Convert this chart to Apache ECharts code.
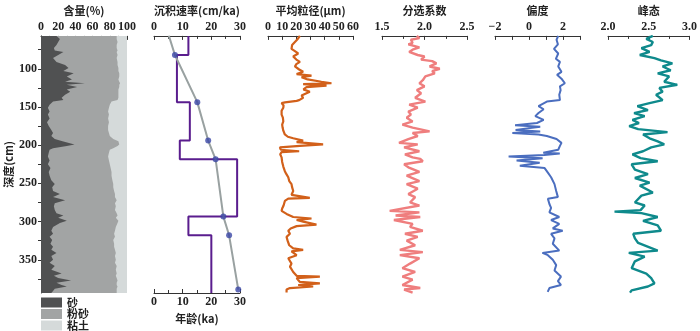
<!DOCTYPE html>
<html lang="en">
<head>
    <meta charset="UTF-8">
    <title>岩芯粒度剖面</title>
    <script src="https://cdn.jsdelivr.net/npm/echarts@6.0.0/dist/echarts.min.js"></script>
</head>
<style>
    html, body { margin: 0; padding: 0; background: #fff; }
    #chart { width: 700px; height: 331px; }
</style>
<body>
<div id="chart"></div>
<script>
    // 含量: 砂 / 砂+粉砂 上界 (%)
    const contDepth = [57, 61, 65, 69, 73, 76, 78, 82, 86, 91, 95, 99, 103, 106, 110, 114, 117, 119, 121, 124, 127, 130, 134, 138, 141,
        143, 147, 151, 156, 160, 165, 170, 175, 180, 184, 188, 192, 195, 199, 201, 204, 206, 210, 215, 220, 225, 230, 235, 240, 246,
        251, 255, 260, 264, 268, 272, 276, 280, 285, 289, 292, 295, 299, 302, 307, 312, 316, 320, 324, 329, 333, 337, 341, 345, 350,
        354, 358, 363, 368, 371, 374, 377, 380, 383, 385, 388, 391, 393.5]
    const sand = [18, 22, 20, 18, 15, 16, 26, 20, 14, 18, 28, 32, 26, 38, 30, 36, 28, 51, 30, 42, 30, 34, 28, 24, 26,
        14, 10, 8, 10, 8, 10, 7, 9, 12, 14, 12, 16, 25, 39, 30, 14, 10, 9, 8, 10, 8, 11, 9, 10, 12,
        16, 13, 14, 22, 14, 28, 16, 15, 16, 18, 26, 20, 30, 22, 14, 12, 14, 10, 13, 11, 14, 12, 18, 12, 14,
        10, 16, 12, 24, 15, 20, 35, 18, 24, 30, 16, 14, 12]
    const sandSilt = [88, 88, 89, 88, 88, 89, 88, 89, 88, 89, 89, 90, 90, 91, 91, 90, 91, 92, 91, 91, 90, 90, 90, 90, 89,
        82, 80, 79, 78, 79, 78, 79, 78, 78, 79, 80, 84, 90, 91, 89, 84, 80, 79, 78, 79, 80, 81, 82, 82, 83,
        84, 84, 85, 86, 86, 88, 86, 87, 86, 88, 89, 87, 90, 89, 87, 86, 85, 86, 84, 85, 85, 86, 87, 86, 87,
        86, 88, 87, 88, 87, 88, 89, 88, 88, 89, 88, 88, 88]

    // 沉积速率 (cm/ka) 与 年龄 (ka)
    const rateBreaks = [57, 82, 143.7, 194, 218.6, 293.5, 318, 393.5]
    const rates = [12, 8, 12.5, 9, 29, 12, 20]
    const ageDepth = [57, 82, 143.7, 194, 218.6, 293.5, 318, 389]
    const ages = [5.2, 7.3, 15.1, 18.9, 21.5, 24.2, 26.2, 29.4]

    // 平均粒径 (μm)
    const gsDepth = [57, 61, 65, 69, 74, 77, 80, 84, 88, 91, 94, 97, 101, 104, 107, 109, 111, 114, 117, 119, 120, 122, 124, 127, 130,
        133, 135, 138, 141, 142, 144, 145, 148, 151, 155, 160, 164, 169, 173, 177, 181, 186, 189, 191, 194, 196, 199, 201, 203, 206,
        208, 209, 212, 216, 222, 228, 234, 238, 242, 247, 251, 255, 260, 265, 269, 270, 273, 279, 283, 286, 290, 294, 296, 298, 300,
        304, 306, 309, 312, 316, 320, 326, 331, 335, 337, 339, 344, 348, 355, 359, 366, 371, 372, 374, 379, 381, 383, 385, 387, 389, 393]
    const gsVal = [22.5, 21, 19, 17, 16.6, 19, 21.3, 17.8, 20, 22.5, 20, 19, 22, 24.8, 20.2, 30.7, 23.7, 28, 37.7, 44.8, 24.8, 41.3, 27.2, 25, 29.5,
        26, 23.7, 24.8, 22, 20.2, 12, 9.6, 11, 10.8, 9.6, 9.6, 10.5, 10.8, 10, 10.3, 10.8, 11.9, 14, 17.8, 24.8, 20.2, 38.9, 22.5, 8.4, 9,
        22, 9.6, 8.6, 9.6, 10, 10.8, 11.9, 13, 14.3, 15, 16.6, 17, 17.8, 16.6, 29.5, 14.3, 11.9, 11, 10, 9.6, 13.1, 17.8, 30.7, 20.2, 24.8,
        34.2, 20.2, 16, 14.3, 15.5, 13.1, 14, 15, 17.8, 24.8, 16.6, 20.2, 14.3, 16.6, 15.5, 17.8, 20.2, 36.6, 20.2, 22.5, 36.6, 21.3, 31.9, 15.5, 13.1, 13.1]

    // 分选系数
    const soDepth = [57, 60, 62, 66, 68, 72, 75, 78, 82, 84, 88, 90, 93, 97, 100, 103, 106, 110, 115, 119, 123, 128, 132, 138, 143,
        147, 151, 156, 160, 164, 169, 173, 177, 182, 184, 188, 192, 197, 199, 203, 208, 212, 216, 218, 221, 225, 229, 235, 240, 247,
        251, 257, 264, 268, 275, 279, 286, 288, 292, 294, 298, 303, 307, 312, 316, 320, 325, 331, 337, 340, 344, 348, 355, 361, 366,
        372, 376, 383, 387, 389, 393]
    const soVal = [1.91, 1.94, 1.84, 1.86, 1.81, 1.94, 1.86, 1.82, 1.92, 2.0, 1.96, 2.09, 2.14, 2.06, 2.18, 2.09, 2.12, 2.01, 1.98, 1.94, 2.0, 1.91, 1.96, 1.89, 2.01,
        1.82, 1.92, 1.81, 1.84, 1.79, 1.86, 1.74, 1.86, 2.06, 1.86, 1.92, 1.81, 1.70, 1.92, 1.76, 1.94, 1.77, 1.86, 1.95, 1.98, 1.76, 1.81, 1.94, 1.79, 1.94,
        1.79, 1.92, 1.81, 1.89, 1.83, 1.94, 1.59, 1.94, 1.66, 1.95, 1.64, 1.86, 1.83, 1.98, 1.77, 1.92, 1.79, 1.89, 1.71, 1.98, 1.71, 1.94, 1.83, 1.74, 1.89,
        1.74, 1.86, 1.74, 1.95, 1.76, 1.86]

    // 偏度
    const skDepth = [57, 62, 68, 74, 80, 87, 91, 97, 104, 108, 113, 119, 123, 128, 134, 141, 143, 145, 149, 151, 153, 158, 162, 167, 171,
        174, 176, 180, 182, 184, 186, 188, 192, 197, 201, 206, 210, 211, 213, 215, 217, 220, 223, 227, 230, 236, 242, 251, 260, 268,
        270, 277, 282, 288, 294, 298, 303, 309, 312, 316, 322, 329, 338, 341, 344, 350, 357, 364, 372, 378, 383, 387, 392]
    const skVal = [1.72, 1.62, 1.7, 1.47, 1.72, 1.58, 1.82, 1.72, 1.91, 1.65, 1.91, 2.11, 1.82, 1.86, 1.78, 1.82, 1.05, 1.15, 0.56, 0.47, 0.86, 0.56, 0.37, 0.86, 0.47,
        -0.82, 0.66, -0.79, 0.66, -0.98, 0.56, 1.05, 1.62, 1.91, 1.82, 1.72, 0.84, 1.81, 0.9, -1.2, 0.8, -0.73, 0.63, -0.54, 0.92, 1.11, 1.3, 1.5, 1.6, 1.7,
        1.11, 1.2, 1.3, 1.2, 1.78, 1.3, 1.78, 1.4, 1.98, 1.3, 1.5, 1.4, 1.78, 0.79, 1.11, 1.4, 1.6, 1.5, 1.88, 1.7, 1.88, 1.2, 1.1]

    // 峰态
    const kuDepth = [57, 61, 65, 69, 73, 78, 82, 86, 89, 93, 97, 102, 106, 110, 117, 121, 125, 130, 134, 141, 145, 149, 154, 158, 162,
        167, 171, 175, 179, 183, 186, 191, 195, 199, 203, 208, 212, 214, 217, 221, 225, 232, 238, 243, 249, 253, 262, 266, 275, 279,
        285, 287, 289, 294, 299, 305, 312, 316, 322, 328, 338, 341, 346, 352, 361, 368, 374, 381, 385, 390, 393]
    const kuVal = [2.55, 2.47, 2.55, 2.53, 2.41, 2.51, 2.39, 2.57, 2.65, 2.79, 2.67, 2.77, 2.61, 2.75, 2.69, 2.85, 2.63, 2.67, 2.59, 2.67, 2.51, 2.36, 2.49, 2.32, 2.45,
        2.30, 2.38, 2.26, 2.37, 2.73, 2.43, 2.51, 2.61, 2.69, 2.53, 2.43, 2.30, 2.29, 2.40, 2.61, 2.29, 2.33, 2.49, 2.33, 2.51, 2.39, 2.55, 2.41, 2.33, 2.45,
        2.40, 2.08, 2.41, 2.61, 2.43, 2.61, 2.65, 2.31, 2.33, 2.37, 2.61, 2.255, 2.45, 2.33, 2.29, 2.47, 2.53, 2.57, 2.49, 2.29, 2.27]

    const depthTicks = [75, 100, 125, 150, 175, 200, 225, 250, 275, 300, 325, 350, 375]
    const depthLabels = [100, 150, 200, 250, 300, 350]
    const legendNames = ['砂', '粉砂', '粘土']

    const zip = (ys, xs) => ys.map((d, i) => [xs[i], d])
    const D_MIN = 57, D_MAX = 393.5
    const lefts = [41, 154, 268, 382, 495, 608]
    const widths = [86, 86, 85, 85, 85, 85]

    const cnFont = {fontFamily: 'Noto Sans CJK SC', fontSize: 11, fontWeight: 'bold', color: '#222'}
    const numFont = {fontFamily: "'Liberation Serif', 'DejaVu Serif', serif", fontSize: 12, fontWeight: 'bold', color: '#222'}
    const ink = {color: '#333', width: 1}

    function xAxis(gi, pos, min, max, interval, name, fmt, minor) {
        return {
            type: 'value', gridIndex: gi, position: pos, min: min, max: max, interval: interval,
            name: name, nameLocation: 'middle', nameGap: pos === 'top' ? 19 : 18,
            nameTextStyle: cnFont,
            axisLine: {show: true, onZero: false, lineStyle: ink},
            axisTick: {show: true, inside: true, length: 4, lineStyle: ink},
            minorTick: {show: !!minor, splitNumber: 2, length: 3, lineStyle: ink},
            axisLabel: Object.assign({margin: 3, formatter: fmt}, numFont),
            splitLine: {show: false}
        }
    }

    function yAxis(gi, show) {
        return {
            type: 'value', gridIndex: gi, inverse: true, min: D_MIN, max: D_MAX, show: show,
            name: show ? '深度(cm)' : '', nameLocation: 'middle', nameGap: 27, nameRotate: 90,
            nameTextStyle: cnFont,
            axisLine: {show: true, onZero: false, lineStyle: ink},
            axisTick: {show: true, length: 3, customValues: depthTicks, lineStyle: ink},
            axisLabel: Object.assign({margin: 4, customValues: depthLabels}, numFont),
            splitLine: {show: false}
        }
    }

    // 多边形面积（通过坐标轴换算）
    function band(name, color, leftVal, rightVal) {
        return {
            type: 'custom', name: name, xAxisIndex: 0, yAxisIndex: 0,
            itemStyle: {color: color},
            data: [[50, 200]],
            renderItem: function (params, api) {
                let pts = []
                contDepth.forEach((d, i) => pts.push(api.coord([rightVal(i), d])))
                for (let i = contDepth.length - 1; i >= 0; i--) pts.push(api.coord([leftVal(i), contDepth[i]]))
                return {type: 'polygon', shape: {points: pts}, style: {fill: color}}
            }
        }
    }

    let ratePts = []
    rates.forEach((r, i) => {
        ratePts.push([r, rateBreaks[i]])
        ratePts.push([r, rateBreaks[i + 1]])
    })

    const line = (xi, yi, data, color, w) => ({
        type: 'line', xAxisIndex: xi, yAxisIndex: yi, data: data, showSymbol: false,
        lineStyle: {color: color, width: w}, itemStyle: {color: color}
    })

    const option = {
        animation: false,
        grid: lefts.map((l, i) => ({left: l, width: widths[i], top: 34, height: 259})),
        legend: legendNames.map((n, i) => ({
            data: [n], left: 41, top: 297 + i * 11.5,
            icon: 'rect', itemWidth: 21, itemHeight: 10, itemGap: 0, padding: 0,
            selectedMode: false, textStyle: cnFont
        })),
        xAxis: [
            xAxis(0, 'top', 0, 100, 20, '含量(%)', null, true),
            xAxis(1, 'top', 0, 30, 10, '沉积速率(cm/ka)', null, true),
            xAxis(1, 'bottom', 0, 30, 10, '年龄(ka)', null, true),
            xAxis(2, 'top', 0, 60, 10, '平均粒径(μm)', null, false),
            xAxis(3, 'top', 1.5, 2.5, 0.5, '分选系数', v => v.toFixed(1), true),
            xAxis(4, 'top', -2, 3, 1, '偏度', v => (v % 2 === 0 ? String(v).replace('-', '−') : ''), false),
            xAxis(5, 'top', 2.0, 3.0, 0.5, '峰态', v => v.toFixed(1), true)
        ],
        yAxis: [yAxis(0, true), yAxis(1, false), yAxis(2, false), yAxis(3, false), yAxis(4, false), yAxis(5, false)],
        series: [
            band('粘土', '#d5dada', i => 0, i => 100),
            band('粉砂', '#a2a4a4', i => 0, i => sandSilt[i]),
            band('砂', '#505152', i => 0, i => sand[i]),
            line(1, 1, ratePts, '#5a1d8e', 2),
            line(2, 1, zip(ageDepth, ages), '#99a1a1', 2),
            {
                type: 'scatter', xAxisIndex: 2, yAxisIndex: 1, data: zip(ageDepth.slice(1), ages.slice(1)),
                symbolSize: 6, itemStyle: {color: '#3b47a6'}, z: 5
            },
            line(3, 2, zip(gsDepth, gsVal), '#d2601a', 2.2),
            line(4, 3, zip(soDepth, soVal), '#ef7e7e', 2.4),
            line(5, 4, zip(skDepth, skVal), '#4b6ebf', 2),
            line(6, 5, zip(kuDepth, kuVal), '#0f8a8c', 2.4)
        ]
    }

    let chart = echarts.init(document.getElementById('chart'))
    chart.setOption(option)
</script>
</body>
</html>
